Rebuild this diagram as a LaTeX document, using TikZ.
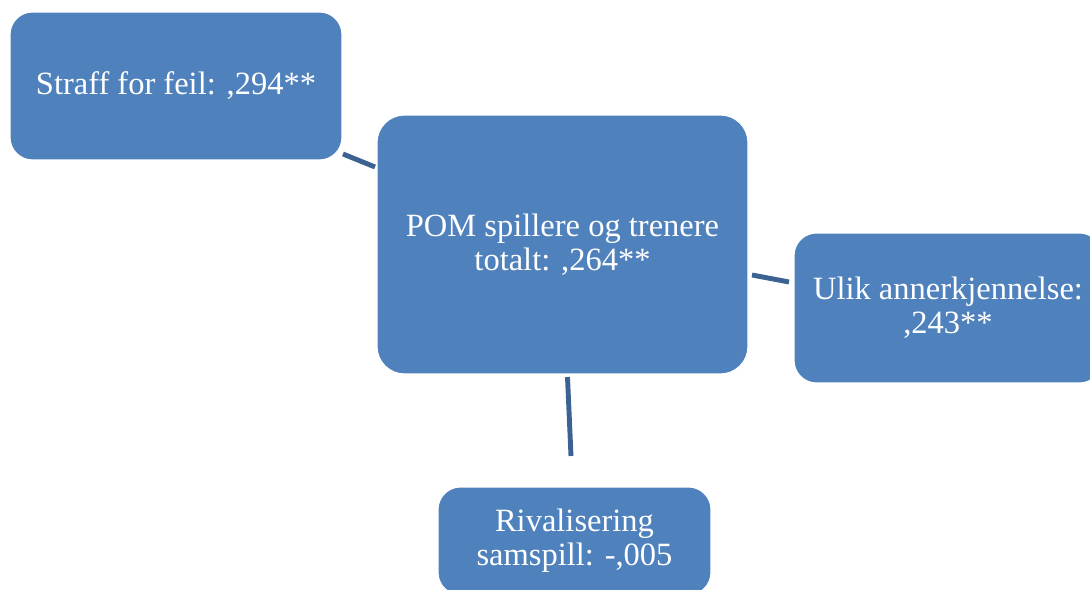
\documentclass[tikz,border=0pt]{standalone}
\usepackage{fontspec}
\setmainfont{Liberation Serif}
\definecolor{boxblue}{RGB}{79,129,189}
\definecolor{lineblue}{RGB}{60,98,148}
\begin{document}
\begin{tikzpicture}[x=0.02cm,y=-0.02cm,
  box/.style={fill=boxblue,draw=white,line width=0.6pt,rounded corners=0.45cm,text=white,align=center,
    font=\fontsize{18.5}{19.4}\selectfont,inner sep=0pt},
  conn/.style={draw=lineblue,line width=2.8pt}]
\useasboundingbox (0,0) rectangle (1090,590);
\clip (0,0) rectangle (1090,590);
\node[box,minimum width=6.64cm,minimum height=2.96cm] (straff) at (176,86) {Straff for feil: ,294**};
\node[box,minimum width=7.42cm,minimum height=5.18cm,rounded corners=0.55cm] (pom) at (562.5,244.5) {POM spillere og trenere\\totalt: ,264**};
\node[box,minimum width=6.16cm,minimum height=3.0cm] (ulik) at (948,308) {Ulik annerkjennelse:\\,243**};
\node[box,minimum width=5.46cm,minimum height=2.16cm] (rival) at (574.5,541) {Rivalisering\\samspill: -,005};
\coordinate (s1) at (343,154);
\coordinate (s2) at (375,167);
\coordinate (u1) at (752,275);
\coordinate (u2) at (789,282);
\coordinate (r1) at (567.5,377);
\coordinate (r2) at (571,456);
\draw[conn] (s1) -- (s2);
\draw[conn] (u1) -- (u2);
\draw[conn] (r1) -- (r2);
\end{tikzpicture}
\end{document}
